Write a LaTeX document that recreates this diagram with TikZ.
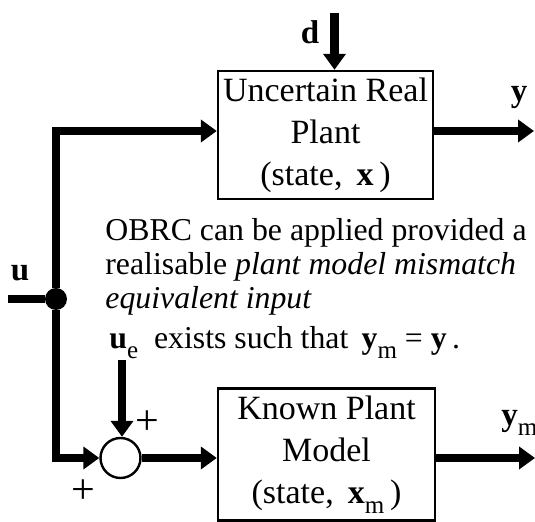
\documentclass[tikz,border=0pt]{standalone}
\usepackage{fontspec}
\setmainfont{Liberation Serif}
\usepackage{tikz}
\usetikzlibrary{arrows.meta, positioning}

\newcommand{\lsub}[1]{\raisebox{-5pt}{\fontsize{12.5}{12.5}\selectfont #1}}

\tikzset{
	sig/.style = {line width=4.25pt, -{Triangle[length=8pt, width=11pt]}},
	wire/.style = {line width=4.25pt},
	blockbox/.style = {draw, line width=1.2pt, align=center, inner sep=0pt,
		minimum width=107.5pt, minimum height=64pt, font=\fontsize{17}{21}\selectfont},
}

\begin{document}
\begin{tikzpicture}[x=0.5pt, y=-0.5pt, font=\fontsize{16.5}{20.5}\selectfont]
			\useasboundingbox (0,0) rectangle (535,522);

			\node[blockbox] (plant) at (325.5,135) {Uncertain Real\\Plant\\(state, \,\textbf{x}\,)};
			\node[blockbox, minimum width=108.5pt, minimum height=66pt] (model) at (326.5,454.5) {Known Plant\\Model\\(state, \,\textbf{x}\lsub{m}\,)};
			\node[circle, draw, line width=1.2pt, minimum size=20pt, inner sep=0pt] (sum) at (120.5,458) {};
			\node[circle, fill, minimum size=11pt, inner sep=0pt] (junc) at (56,299) {};

			\coordinate (din) at (334.5,13);
			\coordinate (uin) at (8,299);
			\coordinate (uein) at (122,360);
			\coordinate (yout) at (534,131);
			\coordinate (ymout) at (535,458);

			\node[inner sep=0pt] (dlab) at (310,32) {\textbf{d}};
			\node[inner sep=0pt] (ulab) at (20,273) {\textbf{u}};
			\node[inner sep=0pt] (ylab) at (519,97) {\textbf{y}};
			\node[inner sep=0pt, anchor=base west] (ymlab) at (501,426) {\textbf{y}\lsub{m}};
			\node[inner sep=0pt, font=\fontsize{21}{21}\selectfont] (plustop) at (147,423) {+};
			\node[inner sep=0pt, font=\fontsize{21}{21}\selectfont] (plusbot) at (83,492) {+};

			\node[anchor=north west, inner sep=0pt, align=left, font=\fontsize{15.9}{17}\selectfont] (note) at (105,218)
				{OBRC can be applied provided a\\realisable \textit{plant model mismatch}\\\textit{equivalent input}\\[3pt]\hspace{2pt}\textbf{u}\lsub{e}\ \ exists such that \,\textbf{y}\lsub{m} = \textbf{y}\,.};

			\draw[sig] (din) -- (din |- plant.north);
			\draw[wire] (uin) -- (junc);
			\draw[sig] (junc) |- ([yshift=2pt]plant.west);
			\draw[sig] ([yshift=2pt]plant.east) -- (yout);
			\draw[sig] (junc) |- (sum.west);
			\draw[sig] (uein) -- (uein |- sum.north);
			\draw[sig] (sum.east) -- (sum -| model.west);
			\draw[sig] (sum -| model.east) -- (ymout);
		\end{tikzpicture}
\end{document}
